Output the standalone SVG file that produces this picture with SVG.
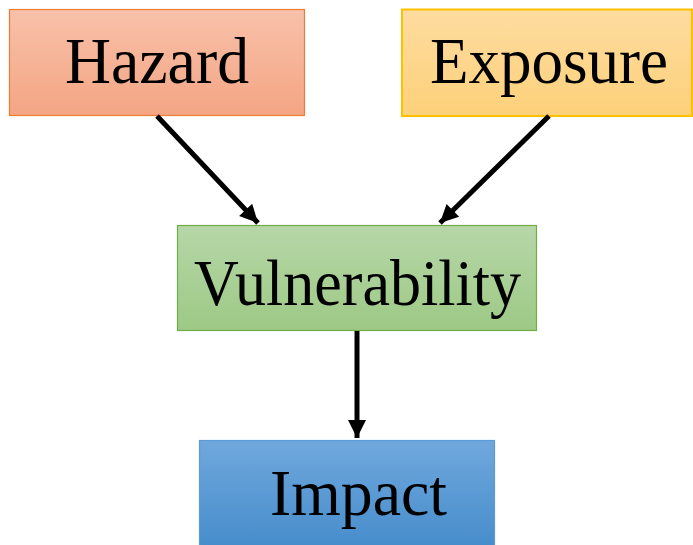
<svg xmlns="http://www.w3.org/2000/svg" width="693" height="545" viewBox="0 0 693 545">
<style>
.lbl{font-family:"Liberation Serif","Times New Roman",serif;font-size:65px;fill:#000;text-anchor:middle}
.con{stroke:#000;stroke-width:5;fill:none}
</style>
<defs>
<linearGradient id="gH" x1="0" y1="0" x2="0" y2="1"><stop offset="0" stop-color="#f8c1aa"/><stop offset="1" stop-color="#f4a583"/></linearGradient>
<linearGradient id="gE" x1="0" y1="0" x2="0" y2="1"><stop offset="0" stop-color="#fedca0"/><stop offset="1" stop-color="#fdd17a"/></linearGradient>
<linearGradient id="gV" x1="0" y1="0" x2="0" y2="1"><stop offset="0" stop-color="#b6d7a8"/><stop offset="1" stop-color="#9dc985"/></linearGradient>
<linearGradient id="gI" x1="0" y1="0" x2="0" y2="1"><stop offset="0" stop-color="#70a8dd"/><stop offset="1" stop-color="#458ccb"/></linearGradient>
<marker id="ah" viewBox="0 0 10 10" refX="10" refY="5" markerWidth="4.4" markerHeight="3.6" orient="auto" markerUnits="strokeWidth"><path d="M0,0 L10,5 L0,10 z" fill="#000"/></marker>
</defs>
<g id="hazard"><rect x="9.5" y="9.5" width="295" height="106" fill="url(#gH)" stroke="#ed7d31" stroke-width="1.2"/><text class="lbl" x="157" y="83" textLength="184" lengthAdjust="spacingAndGlyphs">Hazard</text></g>
<g id="exposure"><rect x="402" y="9.5" width="290" height="106.5" fill="url(#gE)" stroke="#ffc000" stroke-width="2"/><text class="lbl" x="549" y="83" textLength="238" lengthAdjust="spacingAndGlyphs">Exposure</text></g>
<g id="vulnerability"><rect x="177.5" y="225.5" width="359" height="105" fill="url(#gV)" stroke="#70ad47" stroke-width="1.2"/><text class="lbl" x="357.5" y="305" textLength="327" lengthAdjust="spacingAndGlyphs">Vulnerability</text></g>
<g id="impact"><rect x="199.5" y="440.5" width="295" height="110" fill="url(#gI)" stroke="#5b9bd5" stroke-width="1.2"/><text class="lbl" x="358.5" y="515" textLength="177" lengthAdjust="spacingAndGlyphs">Impact</text></g>
<g id="connectors">
<line class="con" x1="157" y1="116" x2="258" y2="223" marker-end="url(#ah)"/>
<line class="con" x1="549" y1="116" x2="440" y2="223" marker-end="url(#ah)"/>
<line class="con" x1="357" y1="331" x2="357" y2="438" marker-end="url(#ah)"/>
</g>
</svg>
